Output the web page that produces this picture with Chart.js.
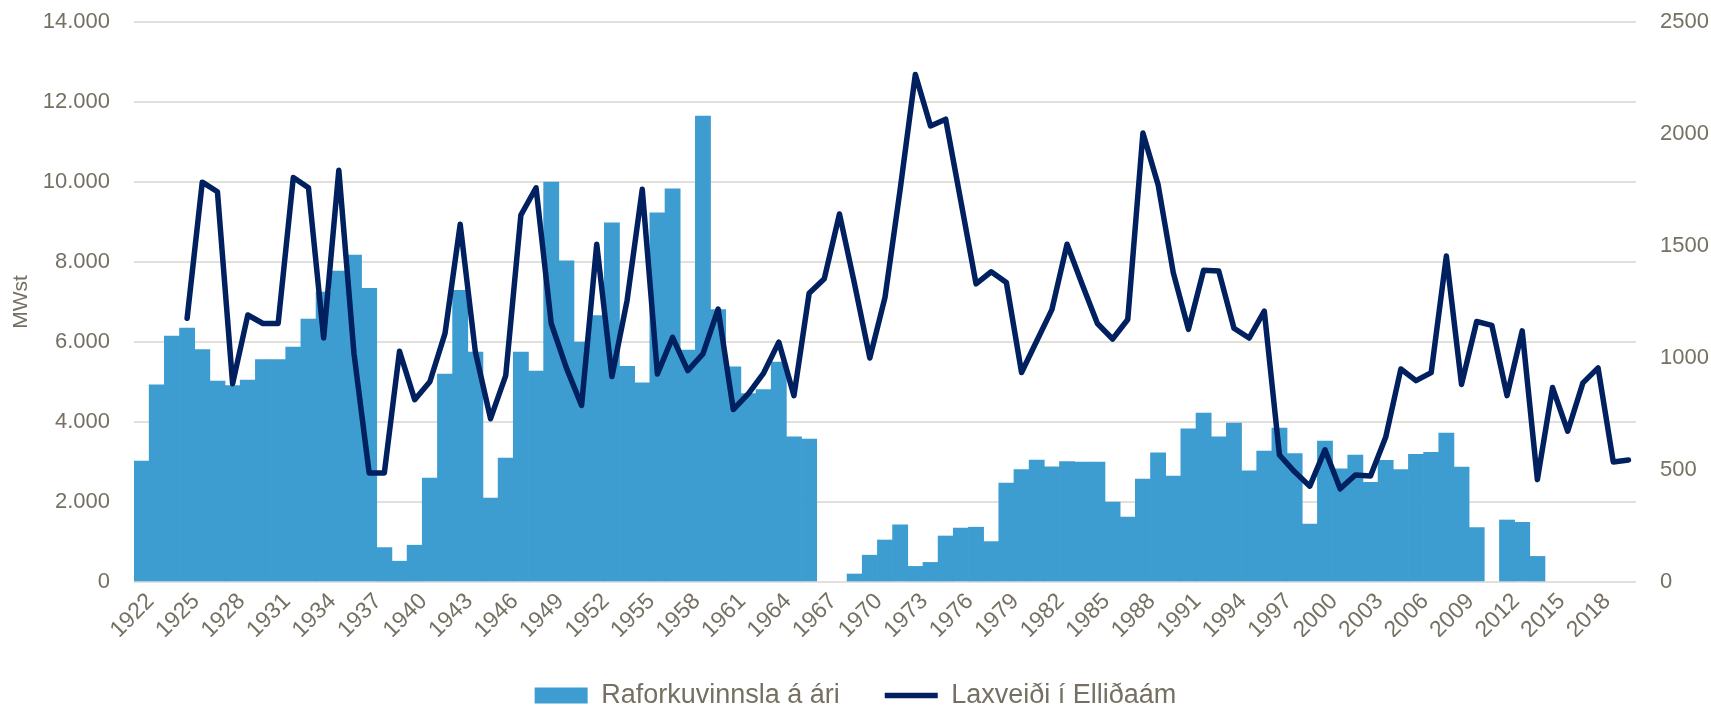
<!DOCTYPE html>
<html lang="is">
<head>
<meta charset="utf-8">
<title>Raforkuvinnsla og laxveiði í Elliðaám</title>
<script src="https://cdn.jsdelivr.net/npm/chart.js@4.4.1/dist/chart.umd.min.js"></script>
<style>
  html, body { margin: 0; padding: 0; background: #fff; }
  #wrap { width: 1711px; height: 713px; position: relative; }
</style>
</head>
<body>
<div id="wrap"><canvas id="chart"></canvas></div>
<script>
// Ár (flokkar á x-ás)
const years = [
  '1922','1923','1924','1925','1926','1927','1928','1929','1930','1931',
  '1932','1933','1934','1935','1936','1937','1938','1939','1940','1941',
  '1942','1943','1944','1945','1946','1947','1948','1949','1950','1951',
  '1952','1953','1954','1955','1956','1957','1958','1959','1960','1961',
  '1962','1963','1964','1965','1966','1967','1968','1969','1970','1971',
  '1972','1973','1974','1975','1976','1977','1978','1979','1980','1981',
  '1982','1983','1984','1985','1986','1987','1988','1989','1990','1991',
  '1992','1993','1994','1995','1996','1997','1998','1999','2000','2001',
  '2002','2003','2004','2005','2006','2007','2008','2009','2010','2011',
  '2012','2013','2014','2015','2016','2017','2018','2019','2020'
];

// Raforkuvinnsla á ári (MWst) - lesið af myndinni
const raforka = [
  3020, 4930, 6150, 6350, 5810, 5020, 4910, 5050, 5560, 5560,
  5870, 6570, 7250, 7770, 8170, 7340, 860, 520, 920, 2600,
  5200, 7290, 5750, 2100, 3100, 5750, 5270, 10000, 8030, 6000,
  6660, 8980, 5390, 4980, 9230, 9830, 5800, 11650, 6810, 5380,
  4710, 4810, 5500, 3630, 3570, null, null, 200, 670, 1050,
  1430, 390, 490, 1150, 1350, 1370, 1010, 2470, 2810, 3050,
  2880, 3010, 3000, 3000, 2000, 1620, 2570, 3230, 2650, 3830,
  4220, 3630, 3970, 2780, 3270, 3850, 3210, 1450, 3520, 2830,
  3170, 2490, 3040, 2810, 3190, 3240, 3720, 2870, 1360, null,
  1550, 1490, 640, null, null, null, null, null, null
];

// Laxveiði í Elliðaám (fjöldi laxa)
const laxveidi = [
  null, null, null, 1177, 1785, 1742, 885, 1192, 1154, 1154,
  1806, 1760, 1089, 1838, 1020, 487, 487, 1030, 814, 894,
  1110, 1597, 1027, 729, 921, 1638, 1760, 1154, 956, 788,
  1508, 917, 1257, 1753, 929, 1092, 944, 1018, 1218, 770,
  841, 933, 1071, 832, 1289, 1354, 1643, 1328, 1000, 1271,
  1753, 2266, 2036, 2066, 1700, 1331, 1385, 1337, 935, 1076,
  1216, 1508, 1328, 1154, 1085, 1172, 2004, 1774, 1381, 1128,
  1392, 1388, 1133, 1089, 1209, 567, 492, 428, 590, 416,
  478, 473, 646, 951, 899, 935, 1455, 882, 1163, 1146,
  832, 1121, 457, 868, 673, 889, 956, 536, 545
];

const textColor = '#757062';
const gridColor = '#e2e0db';
const barColor = '#3d9dd1';
const lineColor = '#002060';
const fontFamily = "'Liberation Sans', Arial, sans-serif";

// 14000 -> "14.000"
function punktar(v) {
  return String(v).replace(/\B(?=(\d{3})+(?!\d))/g, '.');
}

// lætur skýringuna (legend) vera neðst með föstu bili
const legendHeightFix = {
  id: 'legendHeightFix',
  afterInit(chart) {
    const lg = chart.legend;
    if (!lg) return;
    const origFit = lg.fit;
    lg.fit = function() {
      origFit.call(this);
      this.height = 76;
    };
  }
};

const ctx = document.getElementById('chart');

new Chart(ctx, {
  data: {
    labels: years,
    datasets: [
      {
        type: 'bar',
        label: 'Raforkuvinnsla á ári',
        data: raforka,
        backgroundColor: barColor,
        borderWidth: 0,
        barPercentage: 1,
        categoryPercentage: 1,
        yAxisID: 'y',
        order: 1
      },
      {
        type: 'line',
        label: 'Laxveiði í Elliðaám',
        data: laxveidi,
        borderColor: lineColor,
        backgroundColor: lineColor,
        borderWidth: 5.5,
        pointRadius: 0,
        tension: 0,
        borderJoinStyle: 'round',
        borderCapStyle: 'round',
        yAxisID: 'y1',
        order: 0
      }
    ]
  },
  plugins: [legendHeightFix],
  options: {
    responsive: true,
    maintainAspectRatio: false,
    animation: false,
    layout: { padding: { top: 22, bottom: 0, left: 0, right: 0 } },
    plugins: {
      tooltip: { enabled: false },
      legend: {
        position: 'bottom',
        labels: {
          color: textColor,
          font: { family: fontFamily, size: 27 },
          usePointStyle: true,
          pointStyleWidth: 53,
          boxHeight: 16,
          padding: 45,
          sort: (a, b) => a.datasetIndex - b.datasetIndex,
          generateLabels: function(chart) {
            const items = Chart.defaults.plugins.legend.labels.generateLabels(chart);
            items.forEach(it => {
              if (it.datasetIndex === 1) {
                it.pointStyle = 'line';
                it.lineWidth = 5.5;
                it.strokeStyle = lineColor;
              } else {
                it.pointStyle = 'rect';
                it.lineWidth = 0;
              }
            });
            return items;
          }
        }
      }
    },
    scales: {
      x: {
        grid: { display: false, drawTicks: false },
        border: { display: false },
        ticks: {
          color: textColor,
          font: { family: fontFamily, size: 23 },
          autoSkip: false,
          minRotation: 45,
          maxRotation: 45,
          padding: 6,
          labelOffset: 9,
          callback: function(val, i) {
            return i % 3 === 0 ? this.getLabelForValue(val) : '';
          }
        },
        afterFit: function(scale) {
          const legendH = scale.chart.legend ? scale.chart.legend.height : 0;
          scale.height = 713 - 582 - legendH;
        }
      },
      y: {
        position: 'left',
        min: 0,
        max: 14000,
        ticks: {
          stepSize: 2000,
          color: textColor,
          font: { family: fontFamily, size: 22 },
          padding: 0,
          callback: v => punktar(v)
        },
        grid: {
          color: gridColor,
          lineWidth: 2,
          drawTicks: true,
          tickLength: 24,
          tickColor: 'rgba(0,0,0,0)'
        },
        border: { display: false },
        title: {
          display: true,
          text: 'MWst',
          color: textColor,
          font: { family: fontFamily, size: 21 },
          padding: { top: 9, bottom: 0 }
        },
        afterFit: function(scale) { scale.width = 134; }
      },
      y1: {
        position: 'right',
        min: 0,
        max: 2500,
        ticks: {
          stepSize: 500,
          color: textColor,
          font: { family: fontFamily, size: 22 },
          padding: 0,
          callback: v => String(v)
        },
        grid: {
          display: true,
          color: 'rgba(0,0,0,0)',
          drawTicks: true,
          tickLength: 24,
          tickColor: 'rgba(0,0,0,0)'
        },
        border: { display: false },
        afterFit: function(scale) { scale.width = 75; }
      }
    }
  }
});
</script>
</body>
</html>
